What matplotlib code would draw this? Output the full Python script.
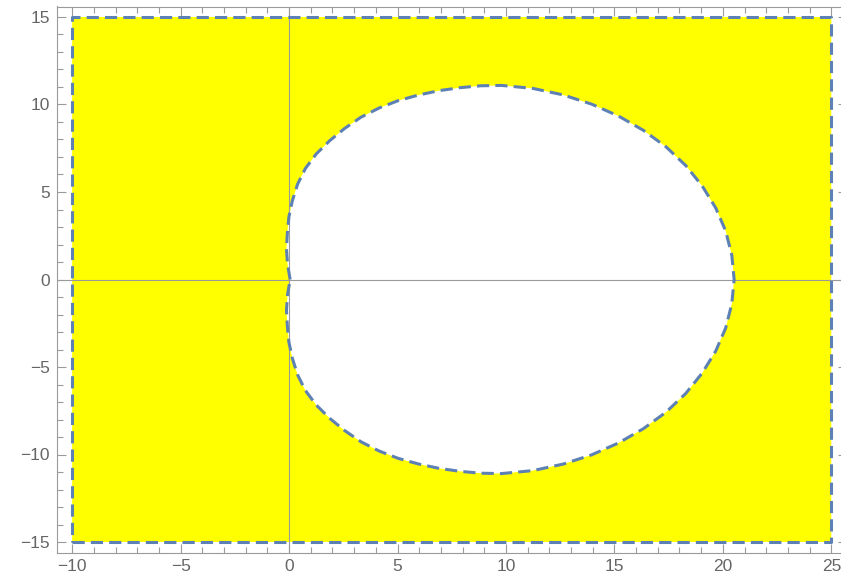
import matplotlib
matplotlib.use("Agg")
import matplotlib.pyplot as plt
import numpy as np
from matplotlib.path import Path
from matplotlib.patches import PathPatch
from matplotlib.ticker import MultipleLocator

# region box
box_x = [-10, 25]
box_y = [-15, 15]

# upper half of the excluded (white) region boundary
# (from the origin, over the top, to the right end on the real axis)
curve_x = [0.05, -0.07, -0.12, -0.08, -0.01, 0.15, 0.39, 0.75, 1.25, 1.87,
           2.56, 3.31, 4.15, 5.03, 5.96, 6.91, 7.87, 8.83, 9.80, 11.24,
           12.63, 13.95, 15.19, 16.34, 17.38, 18.29, 19.05, 19.67, 20.13,
           20.41, 20.52]
curve_y = [0.00, 0.86, 1.75, 2.65, 3.57, 4.50, 5.44, 6.34, 7.17, 7.93,
           8.63, 9.27, 9.80, 10.22, 10.54, 10.79, 10.96, 11.07, 11.09, 10.92,
           10.55, 10.02, 9.34, 8.52, 7.58, 6.51, 5.34, 4.09, 2.77,
           1.40, 0.00]

xticks = [-10, -5, 0, 5, 10, 15, 20, 25]
yticks = [-15, -10, -5, 0, 5, 10, 15]

# curve is symmetric about the real axis
cx = np.array(curve_x + curve_x[::-1][1:])
cy = np.array(curve_y + [-v for v in curve_y[::-1][1:]])

yellow = "#ffff00"
blue = "#5e81b5"
gray = "#9a9a9a"

fig = plt.figure(figsize=(8.41, 5.81), dpi=100)
ax = fig.add_axes([57 / 841, 28.5 / 581, 789.5 / 841, 546 / 581])
ax.set_xlim(-10.7, 25.7)
ax.set_ylim(-15.6, 15.6)

# box counter-clockwise, curve clockwise -> hole
rx = [box_x[0], box_x[1], box_x[1], box_x[0], box_x[0]]
ry = [box_y[0], box_y[0], box_y[1], box_y[1], box_y[0]]
verts = list(zip(rx, ry)) + list(zip(cx, cy))
codes = ([Path.MOVETO] + [Path.LINETO] * 4 +
         [Path.MOVETO] + [Path.LINETO] * (len(cx) - 1))
ax.add_patch(PathPatch(Path(verts, codes), facecolor=yellow, edgecolor="none", zorder=1))

ax.axhline(0, color=gray, lw=0.8, zorder=2)
ax.axvline(0, color=gray, lw=0.8, zorder=2)

ax.plot(rx, ry, color=blue, lw=2.2, ls=(0, (4, 2)), zorder=3)
ax.plot(cx, cy, color=blue, lw=2.2, ls=(0, (4, 2)), zorder=3)

ax.set_xticks(xticks)
ax.set_yticks(yticks)
ax.xaxis.set_minor_locator(MultipleLocator(1))
ax.yaxis.set_minor_locator(MultipleLocator(1))
ax.tick_params(which="both", direction="in", top=True, right=True, colors=gray,
               labelcolor="#666666", labelsize=12.5)
ax.tick_params(which="major", length=6.5, width=0.8, pad=5)
ax.tick_params(which="minor", length=4.2, width=0.8)
for lab in ax.get_xticklabels() + ax.get_yticklabels():
    lab.set_family("Liberation Sans")
for sp in ax.spines.values():
    sp.set_color(gray)
    sp.set_linewidth(0.8)

fig.savefig("out.png", dpi=100)
